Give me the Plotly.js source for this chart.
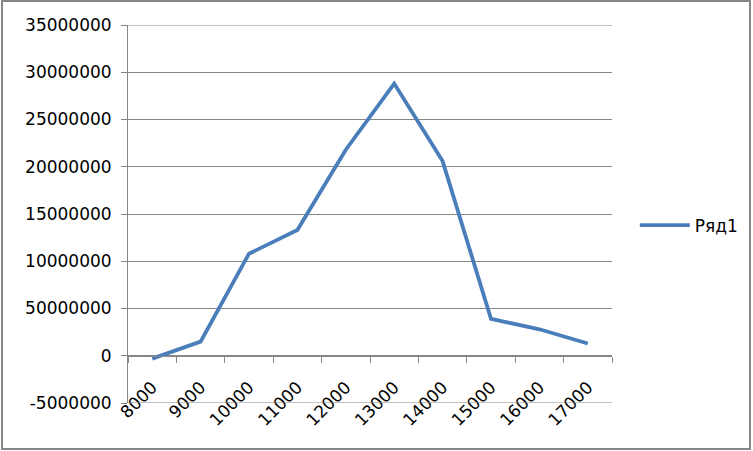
<!DOCTYPE html>
<html>
<head>
<meta charset="utf-8">
<script src="https://cdn.plot.ly/plotly-3.0.1.min.js"></script>
<style>
html,body{margin:0;padding:0;background:#fff;}
#wrap{position:relative;width:753px;height:451px;}
#chart{width:753px;height:451px;}
#frame{position:absolute;left:1px;top:0px;width:750px;height:450px;box-sizing:border-box;border:2px solid #868686;pointer-events:none;}
</style>
</head>
<body>
<div id="wrap"><div id="chart"></div><div id="frame"></div></div>
<script>
const categories = ["8000","9000","10000","11000","12000","13000","14000","15000","16000","17000"];
const series1 = [-300000, 1500000, 10800000, 13300000, 21800000, 28800000, 20600000, 3900000, 2800000, 1300000];
const seriesName = "Ряд1";
const yTickValues = [-5000000, 0, 5000000, 10000000, 15000000, 20000000, 25000000, 30000000, 35000000];
const yTickLabels = ["-5000000", "0", "50000000", "10000000", "15000000", "20000000", "25000000", "30000000", "35000000"];

const font = {family: "DejaVu Sans", size: 17, color: "#000"};
const gray = "#868686";

const edgeLines = [yTickValues[0], yTickValues[yTickValues.length - 1]].map(v => ({
  type: "line", xref: "paper", yref: "y", x0: 0, x1: 1, y0: v, y1: v,
  line: {color: gray, width: 1.2}, layer: "above"
}));

Plotly.newPlot("chart", [{
  x: categories,
  y: series1,
  name: seriesName,
  type: "scatter",
  mode: "lines",
  line: {color: "#4A7EBB", width: 3.8},
  showlegend: true
}], {
  width: 753, height: 451,
  margin: {l: 128, r: 141, t: 25, b: 48},
  paper_bgcolor: "#fff",
  plot_bgcolor: "#fff",
  font: font,
  showlegend: true,
  legend: {xref: "container", yref: "container", x: 0.843, y: 0.5, xanchor: "left", yanchor: "middle", font: font, bgcolor: "rgba(0,0,0,0)", itemwidth: 50},
  shapes: edgeLines,
  xaxis: {
    type: "category",
    range: [-0.5, 9.5],
    tickson: "boundaries",
    ticks: "outside", ticklen: 6, tickcolor: gray, tickwidth: 1,
    showline: true, linecolor: gray, linewidth: 1,
    showgrid: false, zeroline: false,
    tickangle: -45,
    anchor: "free", position: 0.125,
    ticklabelstandoff: 14,
    tickfont: font
  },
  yaxis: {
    range: [-5000000, 35000000],
    tickmode: "array", tickvals: yTickValues, ticktext: yTickLabels,
    ticks: "outside", ticklen: 6, tickcolor: gray, tickwidth: 1,
    showline: true, linecolor: gray, linewidth: 1,
    showgrid: true, gridcolor: gray, gridwidth: 1,
    zeroline: false,
    ticklabelstandoff: 6,
    tickfont: font
  }
}, {staticPlot: true, displayModeBar: false});
</script>
</body>
</html>
